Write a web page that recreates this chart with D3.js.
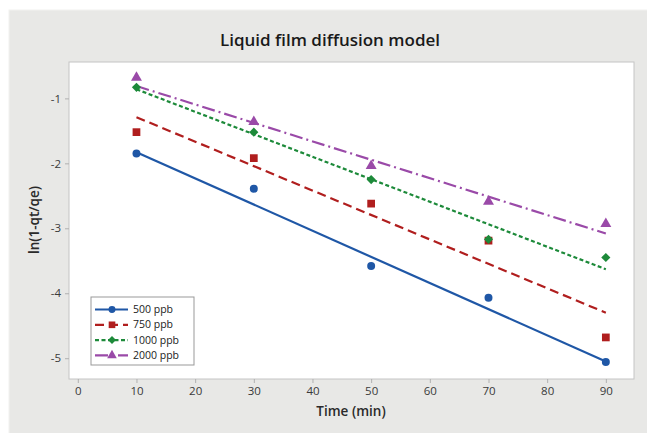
<!DOCTYPE html>
<html><head><meta charset="utf-8">
<script src="https://cdn.jsdelivr.net/npm/d3@7"></script>
<style>body{margin:0;background:#fff;}svg{display:block;font-family:"Open Sans",sans-serif;}</style>
</head><body><svg id="c" width="647" height="433"></svg>
<script>
const times = [10, 30, 50, 70, 90];
const seriesNames = ["500 ppb", "750 ppb", "1000 ppb", "2000 ppb"];
const s500 = [-1.85, -2.39, -3.58, -4.07, -5.06];
const s750 = [-1.52, -1.92, -2.62, -3.19, -4.68];
const s1000 = [-0.83, -1.52, -2.25, -3.17, -3.45];
const s2000 = [-0.68, -1.36, -2.04, -2.59, -2.93];
// fitted line values at first and last time
const fitX = [10, 90];
const fit500 = [-1.83, -5.05];
const fit750 = [-1.29, -4.30];
const fit1000 = [-0.86, -3.63];
const fit2000 = [-0.81, -3.08];
const xTicks = [0, 10, 20, 30, 40, 50, 60, 70, 80, 90];
const yTicks = [-5, -4, -3, -2, -1];

const colors = ["#1f57a6", "#b01e1e", "#1d8a3a", "#9a4aa8"];
const dashes = [null, "9,5", "4,2.5", "13,4,2,4"];
const symbols = [d3.symbolCircle, d3.symbolSquare, d3.symbolSquare, d3.symbolTriangle];
const rotations = [0, 0, 45, 0];
const symSizes = [50, 60, 42, 52];
const legSizes = [38, 44, 32, 40];
const pts = [s500, s750, s1000, s2000];
const fits = [fit500, fit750, fit1000, fit2000];

const svg = d3.select("#c");
svg.append("rect").attr("x", 9).attr("y", 10).attr("width", 650).attr("height", 430)
  .attr("fill", "#e8e8e6").attr("stroke", "#f2f2f0").attr("stroke-width", 1);

const L = 69, R = 634, T = 62, B = 379;
const x = d3.scaleLinear().domain([-1.5, 94.8]).range([L, R]);
const y = d3.scaleLinear().domain([-5.32, -0.44]).range([B, T]);

svg.append("rect").attr("x", L).attr("y", T).attr("width", R - L).attr("height", B - T)
  .attr("fill", "#fff").attr("stroke", "#c4c4c4");

svg.append("text").attr("x", 330).attr("y", 46).attr("text-anchor", "middle")
  .attr("font-size", 17).attr("font-weight", 600).attr("fill", "#1a1a1a").text("Liquid film diffusion model");

const xa = svg.append("g").attr("transform", `translate(0,${B})`)
  .call(d3.axisBottom(x).tickValues(xTicks).tickSize(4).tickPadding(4).tickFormat(d3.format("d")));
const ya = svg.append("g").attr("transform", `translate(${L},0)`)
  .call(d3.axisLeft(y).tickValues(yTicks).tickSize(4).tickPadding(4).tickFormat(d => d));
[xa, ya].forEach(a => {
  a.select(".domain").remove();
  a.selectAll("line").attr("stroke", "#b0b0b0");
  a.selectAll("text").attr("font-size", 11.5).attr("fill", "#3a3a3a").attr("font-family", "Open Sans, sans-serif");
});

svg.append("text").attr("x", 351).attr("y", 416).attr("text-anchor", "middle")
  .attr("font-size", 13.5).attr("font-weight", 600).attr("fill", "#2a2a2a").text("Time (min)");
svg.append("text").attr("transform", "translate(39,220) rotate(-90)").attr("text-anchor", "middle")
  .attr("font-size", 13.5).attr("font-weight", 600).attr("fill", "#2a2a2a").text("ln(1-qt/qe)");

const line = d3.line().x(d => x(d[0])).y(d => y(d[1]));
const plot = svg.append("g");
fits.forEach((f, i) => {
  plot.append("path").attr("d", line(fitX.map((t, j) => [t, f[j]])))
    .attr("fill", "none").attr("stroke", colors[i]).attr("stroke-width", 2.2)
    .attr("stroke-dasharray", dashes[i]);
});
pts.forEach((s, i) => {
  plot.selectAll(null).data(s.map((v, j) => [times[j], v])).enter().append("path")
    .attr("d", d3.symbol().type(symbols[i]).size(symSizes[i]))
    .attr("transform", d => `translate(${x(d[0])},${y(d[1])}) rotate(${rotations[i]})`)
    .attr("fill", colors[i]);
});

const lg = svg.append("g").attr("transform", "translate(91,297)");
lg.append("rect").attr("width", 103).attr("height", 68).attr("fill", "#fff").attr("stroke", "#999");
seriesNames.forEach((n, i) => {
  const yy = 12.5 + i * 15.3;
  lg.append("line").attr("x1", 4).attr("x2", 37).attr("y1", yy).attr("y2", yy)
    .attr("stroke", colors[i]).attr("stroke-width", 2.2).attr("stroke-dasharray", dashes[i]);
  lg.append("path").attr("d", d3.symbol().type(symbols[i]).size(legSizes[i]))
    .attr("transform", `translate(21,${yy}) rotate(${rotations[i]})`).attr("fill", colors[i]);
  lg.append("text").attr("x", 42).attr("y", yy + 3.5).attr("font-size", 10.5).attr("fill", "#222").text(n);
});
</script></body></html>
